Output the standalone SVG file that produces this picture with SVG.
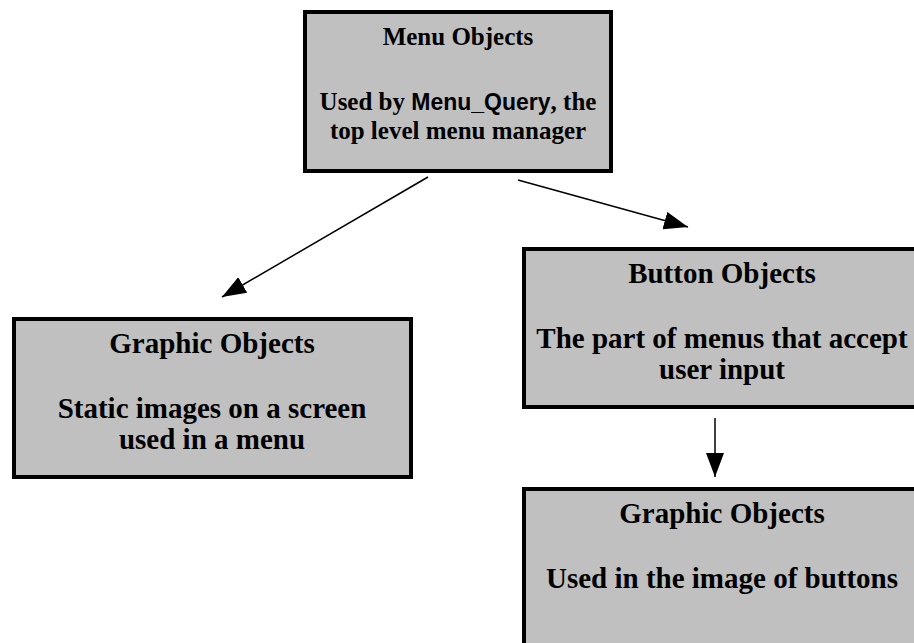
<svg xmlns="http://www.w3.org/2000/svg" width="914" height="643" viewBox="0 0 914 643">
<style>
.box{fill:#c0c0c0;stroke:#000;stroke-width:4}
.t{font-family:"Liberation Serif","Times New Roman",serif;font-weight:bold;font-size:29px;fill:#000;text-anchor:middle}
.m{font-size:25px}
.s{font-family:"Liberation Sans",Arial,sans-serif;font-weight:bold;font-size:23px}
.c{stroke:#000;stroke-width:1.5;fill:none}
</style>
<defs>
<marker id="ah" viewBox="0 0 24 18" refX="24" refY="9" markerWidth="24" markerHeight="18" markerUnits="userSpaceOnUse" orient="auto">
<path d="M0,0 L24,9 L0,18 Z" fill="#000"/>
</marker>
</defs>
<rect width="914" height="643" fill="#fff"/>
<g id="menu">
<rect class="box" x="305" y="12" width="306" height="159"/>
<text class="t m" x="458" y="45">Menu Objects</text>
<text class="t m" x="458" y="110">Used by <tspan class="s">Menu_Query</tspan>, the</text>
<text class="t m" x="458" y="139">top level menu manager</text>
</g>
<g id="graphic1">
<rect class="box" x="14" y="319" width="397" height="158"/>
<text class="t" x="212" y="353">Graphic Objects</text>
<text class="t" x="212" y="418">Static images on a screen</text>
<text class="t" x="212" y="449">used in a menu</text>
</g>
<g id="button">
<rect class="box" x="524" y="249" width="400" height="158"/>
<text class="t" x="722" y="283">Button Objects</text>
<text class="t" x="722" y="348">The part of menus that accept</text>
<text class="t" x="722" y="379">user input</text>
</g>
<g id="graphic2">
<rect class="box" x="524" y="489" width="400" height="170"/>
<text class="t" x="722" y="523">Graphic Objects</text>
<text class="t" x="722" y="588">Used in the image of buttons</text>
</g>
<g id="connectors">
<line class="c" x1="428" y1="177" x2="222" y2="297" marker-end="url(#ah)"/>
<line class="c" x1="518" y1="180" x2="688" y2="227" marker-end="url(#ah)"/>
<line class="c" x1="715" y1="418" x2="715" y2="477" marker-end="url(#ah)"/>
</g>
</svg>
